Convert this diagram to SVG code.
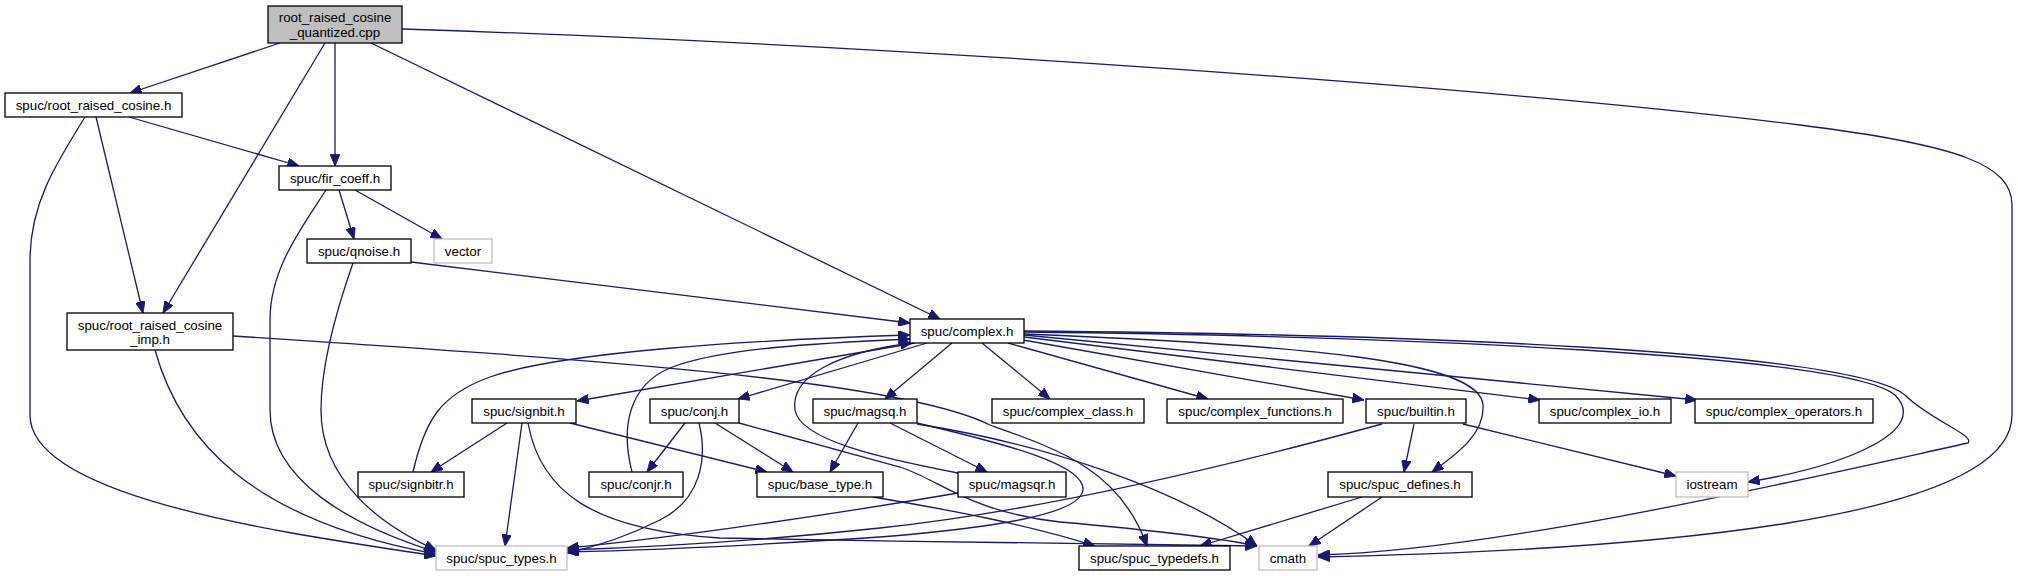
<svg xmlns="http://www.w3.org/2000/svg" width="2018" height="576" viewBox="0 0 2018 576">
<defs>
<marker id="ah" viewBox="0 0 12 10" refX="12" refY="5" markerUnits="userSpaceOnUse" markerWidth="12" markerHeight="9.5" orient="auto">
<path d="M0,0 L12,5 L0,10 z" fill="#191970" stroke="#191970" stroke-width="1"/>
</marker>
<style>
.n rect{fill:#ffffff;stroke:#000000;stroke-width:1.3}
.n.ext rect{stroke:#bfbfbf}
.n.root rect{fill:#bfbfbf}
.n text{font-family:"Liberation Sans",Arial,sans-serif;font-size:13.33px;fill:#000000;text-anchor:middle}
#edges path{fill:none;stroke:#191970;stroke-width:1.3;marker-end:url(#ah)}
</style>
</defs>
<rect x="0" y="0" width="2018" height="576" fill="#ffffff"/>
<g id="edges">
<path d="M280,43 L130,93"/>
<path d="M335,43 L335,166"/>
<path d="M325,43 L163,313"/>
<path d="M371,43 L940,319"/>
<path d="M402,29 C900,45 1500,88 1800,125 C1960,145 2012,165 2012,205 L2012,415 C2012,520 1650,550 1318,557"/>
<path d="M129,117 L299,166"/>
<path d="M96,117 L143,313"/>
<path d="M85,117 C55,165 30,205 30,260 L30,415 C30,500 300,535 436,556"/>
<path d="M326,190 C300,230 270,270 270,320 L270,410 C270,480 350,525 436,552"/>
<path d="M339,190 L354,239"/>
<path d="M355,190 L442,239"/>
<path d="M353,263 C340,300 321,360 321,410 C321,480 380,525 436,550"/>
<path d="M411,262 L910,323"/>
<path d="M155,350 C180,440 250,520 436,554"/>
<path d="M233,336 C600,360 900,380 990,425 C1060,450 1120,470 1147,546"/>
<path d="M915,343 L577,401"/>
<path d="M927,343 L738,399"/>
<path d="M952,343 L885,399"/>
<path d="M982,343 L1050,399"/>
<path d="M1008,343 L1208,399"/>
<path d="M1023,340 L1364,400"/>
<path d="M1024,337 L1540,400"/>
<path d="M1024,335 L1697,400"/>
<path d="M1024,334 C1300,345 1480,360 1483,405 C1485,435 1455,455 1432,472"/>
<path d="M1024,332 C1400,336 1850,355 1895,395 C1930,430 1850,465 1748,482"/>
<path d="M1024,331 C1400,334 1850,350 1905,395 C1930,420 1975,435 1968,443 C1800,480 1500,550 1318,555"/>
<path d="M413,472 C425,420 440,395 490,377 C560,352 750,340 910,335"/>
<path d="M632,472 C620,425 630,385 670,368 C720,348 820,343 910,339"/>
<path d="M958,473 C880,458 800,440 795,410 C790,375 840,352 912,343"/>
<path d="M507,423 L431,472"/>
<path d="M522,423 L505,546"/>
<path d="M570,423 L767,472"/>
<path d="M528,423 C540,490 590,530 720,538 C900,542 1100,543 1257,546"/>
<path d="M685,423 L647,472"/>
<path d="M715,423 L793,472"/>
<path d="M699,423 C708,460 700,500 660,520 C620,540 590,548 567,553"/>
<path d="M739,423 L900,467 C940,480 970,512 1060,522 C1150,530 1220,538 1257,546"/>
<path d="M858,423 L830,472"/>
<path d="M890,423 L987,472"/>
<path d="M917,423 C1010,445 1085,465 1083,490 C1080,515 990,528 880,537 C760,545 650,550 567,552"/>
<path d="M917,424 C1050,445 1180,490 1257,546"/>
<path d="M958,493 C800,520 650,540 567,548"/>
<path d="M873,497 C950,510 1030,525 1095,546"/>
<path d="M1382,424 C1250,460 1050,510 880,528 C760,541 650,547 567,550"/>
<path d="M1414,424 L1404,472"/>
<path d="M1463,424 L1676,476"/>
<path d="M1362,497 L1200,546"/>
<path d="M1382,497 L1309,546"/>
</g>
<g id="n_cpp" class="n root"><rect x="268" y="6" width="134" height="37"/><text x="335" y="22">root_raised_cosine</text><text x="335" y="37">_quantized.cpp</text></g>
<g id="n_rrc" class="n"><rect x="5" y="93" width="177" height="24"/><text x="93.5" y="109.5">spuc/root_raised_cosine.h</text></g>
<g id="n_fir" class="n"><rect x="279" y="166" width="112" height="24"/><text x="335" y="182.5">spuc/fir_coeff.h</text></g>
<g id="n_qnoise" class="n"><rect x="307" y="239" width="104" height="24"/><text x="359" y="255.5">spuc/qnoise.h</text></g>
<g id="n_vector" class="n ext"><rect x="434" y="239" width="58" height="24"/><text x="463" y="255.5">vector</text></g>
<g id="n_imp" class="n"><rect x="67" y="313" width="166" height="37"/><text x="150" y="330">spuc/root_raised_cosine</text><text x="150" y="344">_imp.h</text></g>
<g id="n_complex" class="n"><rect x="910" y="319" width="114" height="24"/><text x="967" y="335.5">spuc/complex.h</text></g>
<g id="n_signbit" class="n"><rect x="472" y="399" width="104" height="24"/><text x="524" y="415.5">spuc/signbit.h</text></g>
<g id="n_conj" class="n"><rect x="650" y="399" width="89" height="24"/><text x="694.5" y="415.5">spuc/conj.h</text></g>
<g id="n_magsq" class="n"><rect x="813" y="399" width="104" height="24"/><text x="865" y="415.5">spuc/magsq.h</text></g>
<g id="n_cclass" class="n"><rect x="992" y="399" width="152" height="24"/><text x="1068" y="415.5">spuc/complex_class.h</text></g>
<g id="n_cfunc" class="n"><rect x="1167" y="399" width="176" height="24"/><text x="1255" y="415.5">spuc/complex_functions.h</text></g>
<g id="n_builtin" class="n"><rect x="1366" y="399" width="100" height="24"/><text x="1416" y="415.5">spuc/builtin.h</text></g>
<g id="n_cio" class="n"><rect x="1539" y="399" width="132" height="24"/><text x="1605" y="415.5">spuc/complex_io.h</text></g>
<g id="n_cops" class="n"><rect x="1695" y="399" width="178" height="24"/><text x="1784" y="415.5">spuc/complex_operators.h</text></g>
<g id="n_signbitr" class="n"><rect x="358" y="472" width="106" height="25"/><text x="411" y="489">spuc/signbitr.h</text></g>
<g id="n_conjr" class="n"><rect x="589" y="472" width="94" height="25"/><text x="636" y="489">spuc/conjr.h</text></g>
<g id="n_base" class="n"><rect x="757" y="472" width="126" height="25"/><text x="820" y="489">spuc/base_type.h</text></g>
<g id="n_magsqr" class="n"><rect x="958" y="472" width="108" height="25"/><text x="1012" y="489">spuc/magsqr.h</text></g>
<g id="n_defines" class="n"><rect x="1328" y="472" width="144" height="25"/><text x="1400" y="489">spuc/spuc_defines.h</text></g>
<g id="n_iostream" class="n ext"><rect x="1676" y="472" width="72" height="25"/><text x="1712" y="489">iostream</text></g>
<g id="n_types" class="n ext"><rect x="436" y="546" width="131" height="24"/><text x="501.5" y="562.5">spuc/spuc_types.h</text></g>
<g id="n_typedefs" class="n"><rect x="1079" y="546" width="151" height="24"/><text x="1154.5" y="562.5">spuc/spuc_typedefs.h</text></g>
<g id="n_cmath" class="n ext"><rect x="1259" y="546" width="58" height="24"/><text x="1288" y="562.5">cmath</text></g>
</svg>
